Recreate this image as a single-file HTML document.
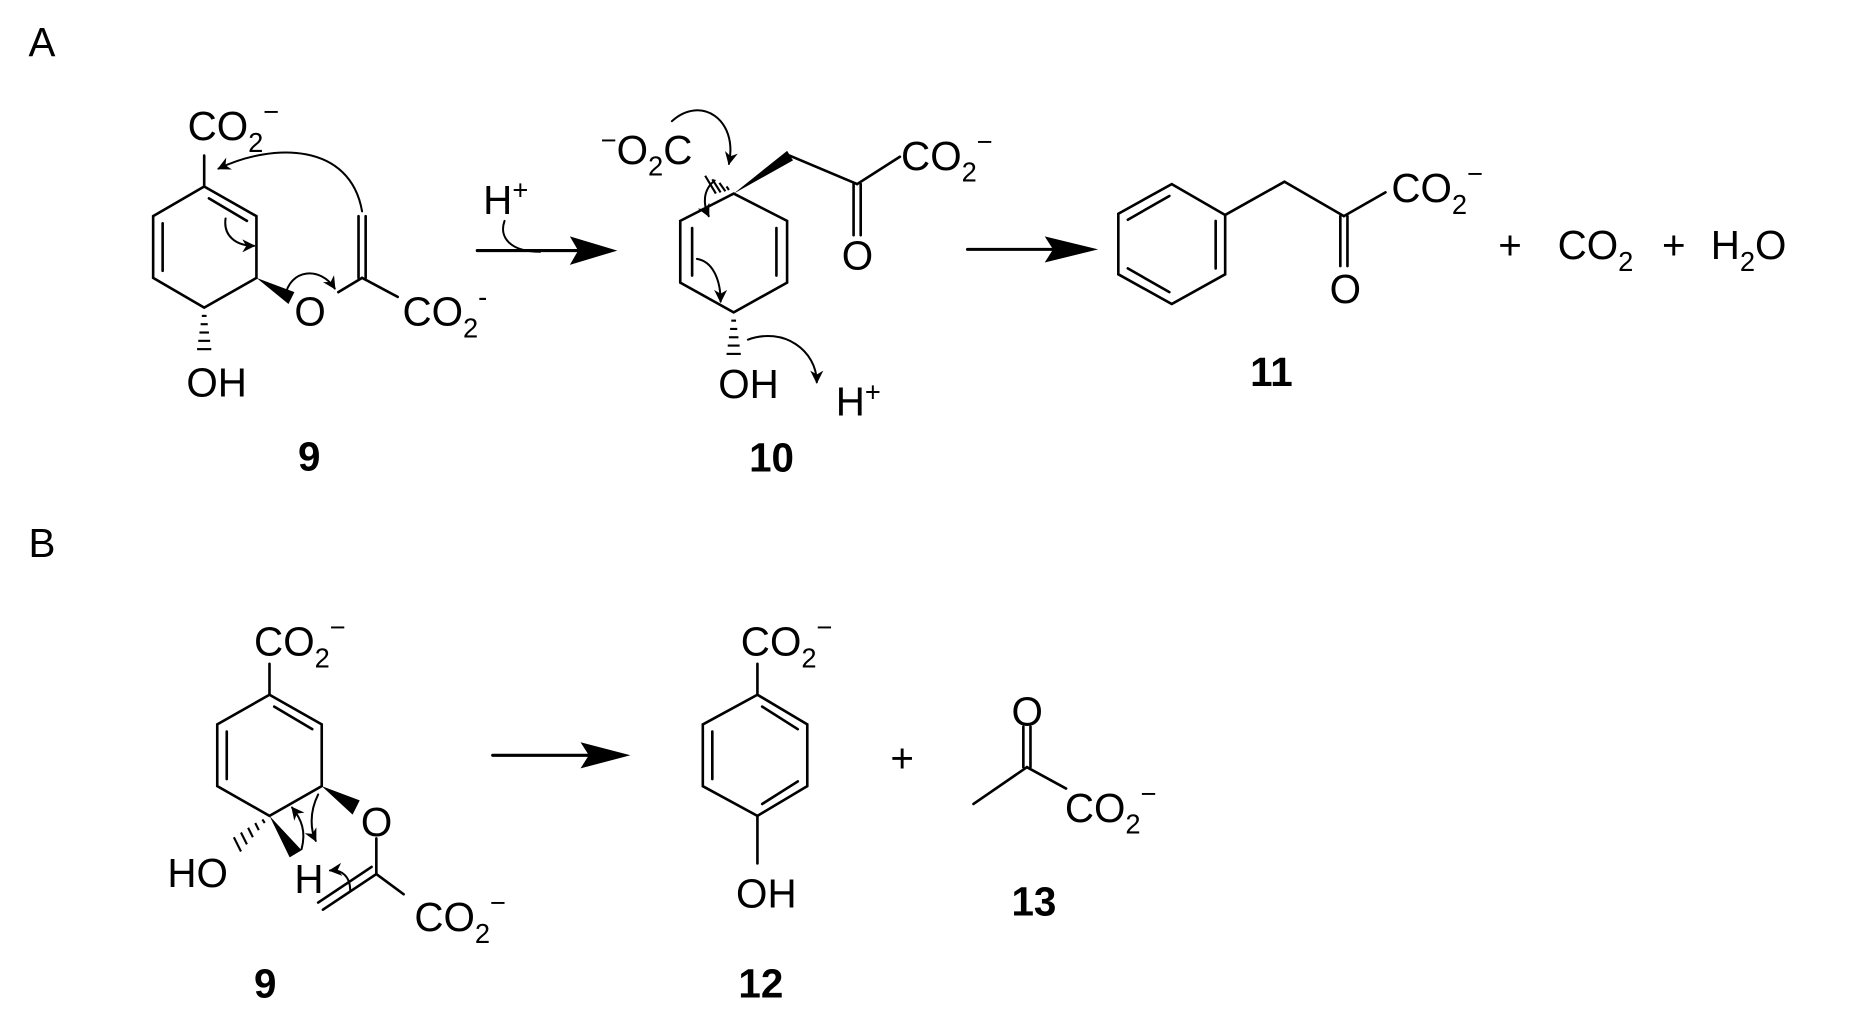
<!DOCTYPE html>
<html><head><meta charset="utf-8"><style>
html,body{margin:0;padding:0;background:#fff;}
svg{display:block;}
text{font-family:"Liberation Sans",sans-serif;font-size:34px;fill:#000;}
.b{font-weight:bold;}
.s{font-size:23px;}
</style></head><body>
<svg width="1852" height="1032" viewBox="0 0 1560 869" preserveAspectRatio="none" xmlns="http://www.w3.org/2000/svg">
<defs>
<marker id="ah" viewBox="0 0 10 10" refX="9" refY="5" markerWidth="11" markerHeight="11" markerUnits="userSpaceOnUse" orient="auto"><path d="M0,0 L10,5 L0,10 L3,5 z" fill="#000"/></marker>
</defs>
<g stroke="#000" stroke-width="2.2" fill="none" stroke-linecap="round">
<path d="M172,157 L216,182 L216,234 L172,259 L129,234 L129,182 Z"/>
<line x1="176" y1="167" x2="208" y2="186"/>
<line x1="137" y1="188" x2="137" y2="228"/>
<line x1="172" y1="157" x2="172" y2="131"/>
<line x1="305" y1="234" x2="285" y2="246"/>
<line x1="302" y1="182" x2="302" y2="234"/>
<line x1="308" y1="182" x2="308" y2="234"/>
<line x1="305" y1="234" x2="335" y2="250"/>
<path d="M305,178 C295,120 230,120 184,142" marker-end="url(#ah)" stroke-width="1.7"/>
<path d="M190,184 C188,198 198,207 214,207" marker-end="url(#ah)" stroke-width="1.7"/>
<path d="M240,250 C244,226 270,224 282,243" marker-end="url(#ah)" stroke-width="1.7"/>
<line x1="402" y1="211" x2="490" y2="211" stroke-width="2.6"/>
<path d="M425,186 C420,200 430,212 455,212" stroke-width="1.7"/>
<path d="M618,163 L663,186 L663,238 L618,263 L573,238 L573,186 Z"/>
<line x1="583" y1="192" x2="583" y2="232"/>
<line x1="654" y1="192" x2="654" y2="232"/>
<line x1="665" y1="131" x2="722" y2="155"/>
<line x1="719" y1="155" x2="719" y2="198"/>
<line x1="725" y1="155" x2="725" y2="198"/>
<line x1="722" y1="155" x2="758" y2="132"/>
<path d="M566,102 C590,80 622,100 614,138" marker-end="url(#ah)" stroke-width="1.7"/>
<path d="M602,152 C592,160 592,172 597,182" marker-end="url(#ah)" stroke-width="1.7"/>
<path d="M587,218 C600,220 607,235 607,254" marker-end="url(#ah)" stroke-width="1.7"/>
<path d="M630,286 C660,275 688,295 688,322" marker-end="url(#ah)" stroke-width="1.7"/>
<line x1="815" y1="210" x2="895" y2="210" stroke-width="2.6"/>
<path d="M987,155 L1032,181 L1032,231 L987,256 L942,231 L942,180 Z"/>
<line x1="950" y1="185" x2="985" y2="165"/>
<line x1="1024" y1="186" x2="1024" y2="226"/>
<line x1="950" y1="226" x2="985" y2="246"/>
<line x1="1032" y1="181" x2="1082" y2="153"/>
<line x1="1082" y1="153" x2="1132" y2="182"/>
<line x1="1132" y1="182" x2="1167" y2="162"/>
<line x1="1129" y1="182" x2="1129" y2="224"/>
<line x1="1135" y1="182" x2="1135" y2="224"/>
<path d="M227,585 L271,610 L271,662 L227,687 L183,662 L183,610 Z"/>
<line x1="231" y1="595" x2="263" y2="614"/>
<line x1="191" y1="616" x2="191" y2="656"/>
<line x1="227" y1="585" x2="227" y2="559"/>
<line x1="317" y1="706" x2="317" y2="736"/>
<line x1="317" y1="736" x2="272" y2="766"/>
<line x1="313" y1="730" x2="268" y2="760"/>
<line x1="317" y1="736" x2="340" y2="753"/>
<path d="M268,669 C260,685 262,700 266,708" marker-end="url(#ah)" stroke-width="1.7"/>
<path d="M254,715 C258,700 254,690 246,680" marker-end="url(#ah)" stroke-width="1.7"/>
<path d="M295,750 C295,738 288,732 278,733" marker-end="url(#ah)" stroke-width="1.7"/>
<line x1="415" y1="636" x2="500" y2="636" stroke-width="2.6"/>
<path d="M638,585 L680,610 L680,662 L638,687 L592,662 L592,610 Z"/>
<line x1="642" y1="595" x2="672" y2="614"/>
<line x1="600" y1="616" x2="600" y2="656"/>
<line x1="642" y1="677" x2="672" y2="658"/>
<line x1="638" y1="585" x2="638" y2="559"/>
<line x1="638" y1="687" x2="638" y2="727"/>
<line x1="865" y1="646" x2="820" y2="677"/>
<line x1="862" y1="646" x2="862" y2="612"/>
<line x1="868" y1="646" x2="868" y2="612"/>
<line x1="865" y1="646" x2="898" y2="664"/>
</g>
<g fill="#000" stroke="none">
<path d="M216,234 L248,246 L243,256 Z"/>
<path d="M618,163 L663,127 L668,135 Z"/>
<path d="M271,662 L303,674 L297,686 Z"/>
<path d="M227,687 L244,722 L254,716 Z"/>
<path d="M480,199 L520,211 L480,223 L487,211 Z"/>
<path d="M880,199 L925,210 L880,221 L887,210 Z"/>
<path d="M489,625 L531,636 L489,647 L496,636 Z"/>
</g>
<g stroke="#000" stroke-width="1.8">
<line x1="170" y1="266" x2="174" y2="266"/><line x1="169" y1="273" x2="175" y2="273"/><line x1="168" y1="280" x2="176" y2="280"/><line x1="167" y1="287" x2="177" y2="287"/><line x1="166" y1="294" x2="178" y2="294"/>
<line x1="616" y1="270" x2="620" y2="270"/><line x1="615" y1="277" x2="621" y2="277"/><line x1="614" y1="284" x2="622" y2="284"/><line x1="613" y1="291" x2="623" y2="291"/><line x1="612" y1="298" x2="624" y2="298"/>
<line x1="612" y1="157" x2="614" y2="160"/><line x1="606" y1="154" x2="611" y2="161"/><line x1="600" y1="151" x2="607" y2="162"/><line x1="594" y1="148" x2="603" y2="163"/>
<line x1="221" y1="690" x2="223" y2="693"/><line x1="215" y1="693" x2="218" y2="699"/><line x1="209" y1="697" x2="213" y2="705"/><line x1="203" y1="701" x2="208" y2="711"/><line x1="197" y1="705" x2="203" y2="717"/>
</g>
<text x="24" y="47">A</text>
<text x="24" y="469">B</text>
<text x="158" y="118">CO<tspan class="s" dy="10">2</tspan><tspan class="s" dy="-26">−</tspan></text>
<text x="248" y="274">O</text>
<text x="339" y="274">CO<tspan class="s" dy="10">2</tspan><tspan class="s" dy="-26">-</tspan></text>
<text x="157" y="334">OH</text>
<text class="b" x="251" y="396">9</text>
<text x="407" y="180">H<tspan class="s" dy="-12">+</tspan></text>
<text x="506" y="138"><tspan class="s" dy="-12">−</tspan><tspan dy="12">O</tspan><tspan class="s" dy="10">2</tspan><tspan dy="-10">C</tspan></text>
<text x="759" y="143">CO<tspan class="s" dy="10">2</tspan><tspan class="s" dy="-26">−</tspan></text>
<text x="709" y="227">O</text>
<text x="605" y="335">OH</text>
<text x="704" y="350">H<tspan class="s" dy="-12">+</tspan></text>
<text class="b" x="631" y="397">10</text>
<text x="1172" y="170">CO<tspan class="s" dy="10">2</tspan><tspan class="s" dy="-26">−</tspan></text>
<text x="1120" y="255">O</text>
<text x="1262" y="218">+</text>
<text x="1312" y="218">CO<tspan class="s" dy="10">2</tspan></text>
<text x="1400" y="218">+</text>
<text x="1441" y="218">H<tspan class="s" dy="10">2</tspan><tspan dy="-10">O</tspan></text>
<text class="b" x="1053" y="325">11</text>
<text x="214" y="552">CO<tspan class="s" dy="10">2</tspan><tspan class="s" dy="-26">−</tspan></text>
<text x="304" y="704">O</text>
<text x="141" y="747">HO</text>
<text x="248" y="752">H</text>
<text x="349" y="784">CO<tspan class="s" dy="10">2</tspan><tspan class="s" dy="-26">−</tspan></text>
<text class="b" x="214" y="840">9</text>
<text x="624" y="552">CO<tspan class="s" dy="10">2</tspan><tspan class="s" dy="-26">−</tspan></text>
<text x="620" y="764">OH</text>
<text class="b" x="622" y="840">12</text>
<text x="750" y="650">+</text>
<text x="852" y="611">O</text>
<text x="897" y="692">CO<tspan class="s" dy="10">2</tspan><tspan class="s" dy="-26">−</tspan></text>
<text class="b" x="852" y="771">13</text>
</svg>
</body></html>
